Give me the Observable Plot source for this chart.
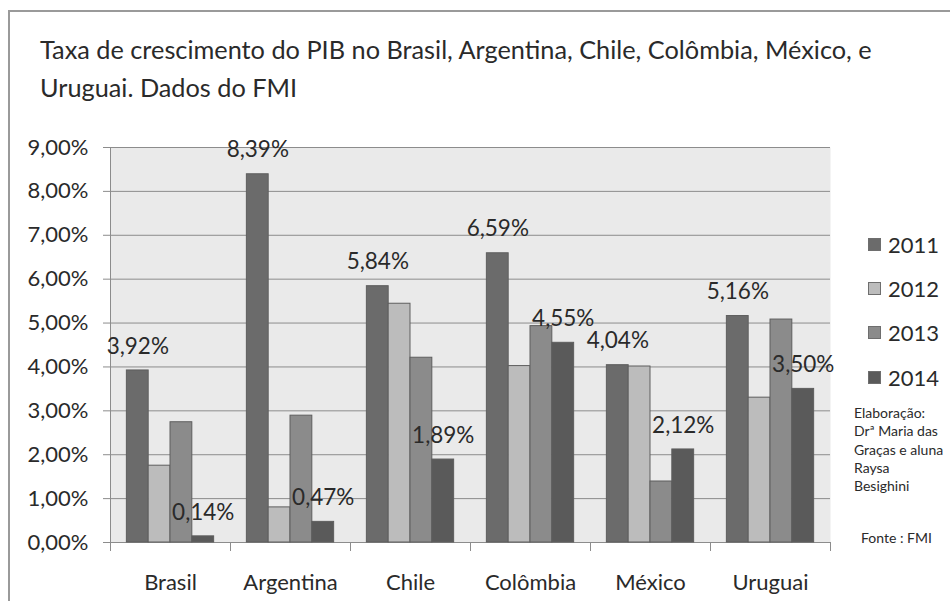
<!DOCTYPE html>
<html>
<head>
<meta charset="utf-8">
<script src="https://cdn.jsdelivr.net/npm/d3@7"></script>
<script src="https://cdn.jsdelivr.net/npm/@observablehq/plot@0.6"></script>
<style>
  html, body { margin: 0; padding: 0; background: #fff; }
  #wrap { position: relative; width: 950px; height: 601px; overflow: hidden; font-family: Lato, "Open Sans", sans-serif; }
  #border { position: absolute; left: 8px; top: 10px; right: -10px; bottom: -10px; border-left: 2px solid #9a9a9a; border-top: 2px solid #9a9a9a; }
  #title { position: absolute; left: 40px; top: 30px; font-size: 25.3px; line-height: 38px; color: #2a2a2a; white-space: nowrap; }
  #chart { position: absolute; left: 0; top: 0; }
  #legend { position: absolute; left: 868px; top: 222px; }
  .item { height: 44.3px; display: flex; align-items: center; font-size: 22px; color: #2a2a2a; }
  .sw { width: 13px; height: 13px; border: 1px solid #6e6e6e; box-sizing: border-box; margin-right: 7px; }
  #note { position: absolute; left: 854px; top: 404px; font-size: 14px; line-height: 18.3px; color: #2a2a2a; white-space: nowrap; }
  #fonte { position: absolute; left: 861px; top: 529px; font-size: 14px; line-height: 18px; color: #2a2a2a; white-space: nowrap; }
</style>
</head>
<body>
<div id="wrap">
  <div id="border"></div>
  <div id="chart"></div>
  <div id="title">Taxa de crescimento do PIB no Brasil, Argentina, Chile, Colômbia, México, e<br>Uruguai. Dados do FMI</div>
  <div id="legend"></div>
  <div id="note">Elaboração:<br>Drª Maria das<br>Graças e aluna<br>Raysa<br>Besighini</div>
  <div id="fonte">Fonte : FMI</div>
</div>
<script>
const countries = ["Brasil", "Argentina", "Chile", "Colômbia", "México", "Uruguai"];
const years = ["2011", "2012", "2013", "2014"];
const v2011 = [3.92, 8.39, 5.84, 6.59, 4.04, 5.16];
const v2012 = [1.75, 0.80, 5.44, 4.02, 4.01, 3.30];
const v2013 = [2.74, 2.89, 4.21, 4.93, 1.39, 5.08];
const v2014 = [0.14, 0.47, 1.89, 4.55, 2.12, 3.50];
const labeledYears = ["2011", "2014"];
const yTicks = [0, 1, 2, 3, 4, 5, 6, 7, 8, 9];
const colors = ["#6b6b6b", "#bcbcbc", "#8b8b8b", "#5a5a5a"];

const series = [v2011, v2012, v2013, v2014];
const data = countries.flatMap((c, i) => years.map((y, j) => ({country: c, year: y, value: series[j][i]})));
const fmt = d => d.toFixed(2).replace(".", ",") + "%";

const plot = Plot.plot({
  width: 950,
  height: 601,
  marginLeft: 107,
  marginRight: 118,
  marginTop: 147,
  marginBottom: 59,
  style: {fontFamily: "Lato, 'Open Sans', sans-serif", background: "transparent", color: "#2a2a2a"},
  fx: {domain: countries, padding: 0, axis: null, label: null},
  x: {domain: years, paddingInner: 0, paddingOuter: 0.75, round: false, axis: null},
  y: {domain: [0, 9], axis: null},
  color: {domain: years, range: colors},
  marks: [
    Plot.frame({fill: "#eaeaea", stroke: null, facet: "super"}),
    Plot.gridY(yTicks, {stroke: "#8c8c8c", strokeOpacity: 1, strokeWidth: 1}),
    Plot.frame({anchor: "left", stroke: "#8c8c8c", facet: "super"}),
    Plot.frame({anchor: "left", stroke: "#8c8c8c", insetTop: 395, insetBottom: -8}),
    Plot.frame({anchor: "right", stroke: "#8c8c8c", insetTop: 395, insetBottom: -8}),
    Plot.barY(data, {fx: "country", x: "year", y: "value", fill: "year", stroke: "#5e5e5e", strokeWidth: 1}),
    Plot.text(data.filter(d => labeledYears.includes(d.year)), {
      fx: "country", x: "year", y: "value", text: d => fmt(d.value),
      dy: -24, fontSize: 22.5, fill: "#2a2a2a"
    }),
    Plot.axisY(yTicks, {tickSize: 7, tickPadding: 15, tickFormat: fmt, fontSize: 22, stroke: "#8c8c8c", fill: "#2a2a2a", label: null}),
    Plot.axisFx({anchor: "bottom", tickSize: 0, tickPadding: 32, fontSize: 22, fill: "#2a2a2a", label: null})
  ]
});
document.getElementById("chart").appendChild(plot);

const legend = document.getElementById("legend");
years.forEach((y, i) => {
  const item = document.createElement("div");
  item.className = "item";
  const sw = document.createElement("span");
  sw.className = "sw";
  sw.style.background = colors[i];
  const t = document.createElement("span");
  t.textContent = y;
  item.appendChild(sw);
  item.appendChild(t);
  legend.appendChild(item);
});
</script>
</body>
</html>
